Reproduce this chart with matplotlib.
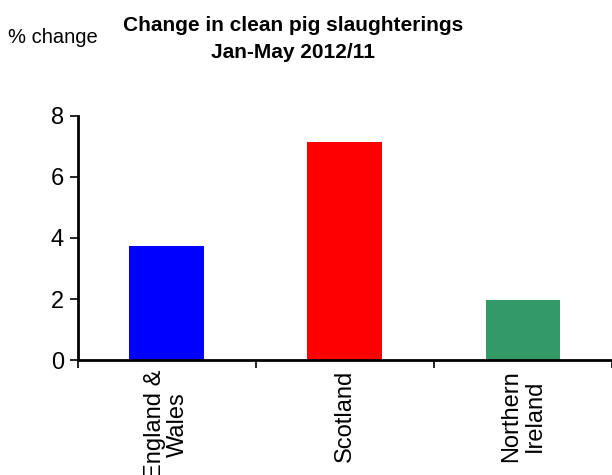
import matplotlib
matplotlib.use('Agg')
import matplotlib.pyplot as plt
import numpy as np

plt.rcParams['font.family'] = ['Liberation Sans', 'DejaVu Sans']

# Data
regions = ['England &\nWales', 'Scotland', 'Northern\nIreland']
pct_change = [3.75, 7.15, 1.97]
bar_colors = ['#0000ff', '#ff0000', '#339966']

fig = plt.figure(figsize=(6.12, 4.75), dpi=100)
ax = fig.add_axes([0.127, 0.242, 0.873, 0.514])

pos = np.arange(len(regions)) + 0.5
ax.bar(pos, pct_change, width=0.42, color=bar_colors, zorder=1)

ax.set_xlim(0, len(regions))
ax.set_ylim(0, 8)
ax.set_yticks([0, 2, 4, 6, 8])

# tick marks on category boundaries, labels on category centres
ax.set_xticks(np.arange(len(regions) + 1))
ax.set_xticklabels([])
ax.set_xticks(pos, minor=True)
ax.set_xticklabels(regions, minor=True, rotation=90, ha='center', va='top',
                   multialignment='center', fontsize=17, linespacing=1.05)
ax.tick_params(axis='x', which='minor', length=0, pad=7)
ax.tick_params(axis='x', which='major', direction='out', length=6, width=1.2)
ax.tick_params(axis='y', direction='out', length=6, width=1.2, labelsize=17, pad=4)

for s in ['top', 'right']:
    ax.spines[s].set_visible(False)
for s in ['left', 'bottom']:
    ax.spines[s].set_linewidth(2)
ax.spines['bottom'].set_zorder(3)

fig.text(0.479, 0.966, 'Change in clean pig slaughterings\nJan-May 2012/11',
         ha='center', va='top', fontsize=15, fontweight='bold', linespacing=1.55)
fig.text(0.013, 0.91, '% change', ha='left', va='baseline', fontsize=14.5)

fig.savefig('out.png', dpi=100)
